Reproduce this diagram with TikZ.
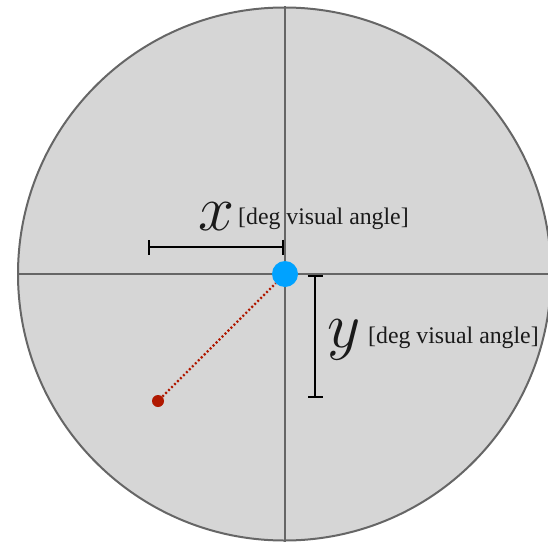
\documentclass[tikz,border=0pt]{standalone}
\usepackage{graphicx}
\usepackage{fontspec}
\setmainfont{Liberation Serif}
\usetikzlibrary{arrows.meta}
\definecolor{circfill}{HTML}{D6D6D6}
\definecolor{linegray}{HTML}{666666}
\definecolor{fixblue}{HTML}{00A2FF}
\definecolor{targetred}{HTML}{B01800}
\definecolor{txt}{HTML}{1A1A1A}
\newcommand{\bigmath}[1]{\scalebox{2.6}{\Huge$#1$}}
\tikzset{
  field/.style={circle, draw=linegray, fill=circfill, line width=2pt, minimum size=533pt, inner sep=0pt},
  cross/.style={draw=linegray, line width=2pt},
  dotfix/.style={circle, fill=fixblue, minimum size=26pt, inner sep=0pt},
  dottarget/.style={circle, fill=targetred, minimum size=12pt, inner sep=0pt},
  trace/.style={draw=targetred, line width=2.2pt, dash pattern=on 2pt off 2.2pt},
  scalebar/.style={draw=black, line width=2.4pt, {Bar[width=15pt,line width=2.4pt]}-{Bar[width=15pt,line width=2.4pt]}},
  bigvar/.style={anchor=base west, inner sep=0pt, text=txt},
  unit/.style={anchor=base west, inner sep=0pt, text=txt, font=\fontsize{23.8}{24}\selectfont}
}
\begin{document}
\begin{tikzpicture}[x=1pt,y=-1pt]
\useasboundingbox (0,0) rectangle (548,543);
\clip (0,0) rectangle (548,543);
\node[field] (field) at (284.5,274) {};
\draw[cross] (field.north) -- (field.south);
\draw[cross] (field.west) -- (field.east);
\node[dottarget] (target) at (158,401) {};
\node[dotfix] (fix) at (285,274) {};
\draw[trace] (target) -- (fix);
\coordinate (xl) at (148,247);
\coordinate (xr) at (284,247);
\draw[scalebar] (xl) -- (xr);
\coordinate (yt) at (315,275);
\coordinate (yb) at (315,398);
\draw[scalebar] (yt) -- (yb);
\node[bigvar] (xvar) at (198,230) {\bigmath{x}};
\node[unit] (xunit) at (238,224) {[deg visual angle]};
\node[bigvar] (yvar) at (327,347) {\bigmath{y}};
\node[unit] (yunit) at (368,343) {[deg visual angle]};
\end{tikzpicture}
\end{document}
